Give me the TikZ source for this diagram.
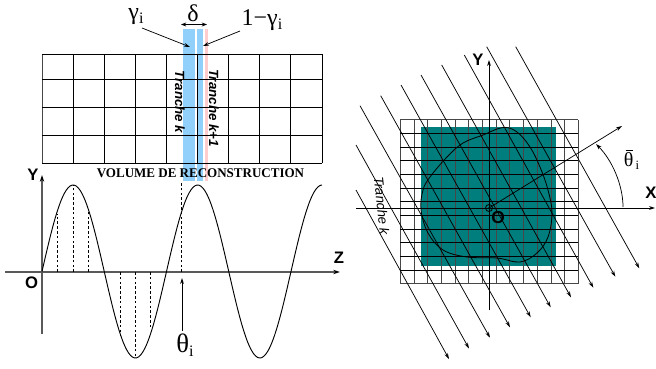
\documentclass[tikz,border=0pt]{standalone}
\usepackage{fontspec}
\setsansfont{Liberation Sans}
\newfontfamily\grk{Liberation Serif}
\usetikzlibrary{arrows.meta}
\definecolor{tealfill}{RGB}{0,125,125}
\definecolor{sliceblue}{RGB}{145,208,250}
\definecolor{slicered}{RGB}{255,205,205}
\tikzset{
  x=0.75pt,y=-0.75pt,
  thin line/.style={line width=0.6pt,black},
  grid line/.style={line width=0.68pt,black},
  grey grid/.style={line width=0.75pt,black!72},
  axis line/.style={line width=0.85pt,black!65,-{Stealth[length=5pt,width=3.2pt,black]}},
  arrow line/.style={line width=0.55pt,black,-{Stealth[length=4.5pt,width=2.8pt]}},
  guide line/.style={line width=0.6pt,black,dash pattern=on 2pt off 1.6pt},
  axis label/.style={font=\sffamily\bfseries\fontsize{12.5}{12}\selectfont,inner sep=0pt},
  greek label/.style={font=\grk\fontsize{18}{18}\selectfont,inner sep=0pt},
  slice label/.style={font=\sffamily\itshape\bfseries\fontsize{10}{10}\selectfont,inner sep=0pt,rotate=-90},
}
\begin{document}
\begin{tikzpicture}
\useasboundingbox (0,0) rectangle (656,368);
% slices
\fill[slicered] (204.5,29) rectangle (208,181);
\fill[sliceblue] (183,29) rectangle (195,181);
\fill[sliceblue] (196.7,29) rectangle (203.3,181);
% left grid
\foreach \gx in {73,104,135,166,197.5,228,259,290,322}
  \draw[grid line] (\gx,54) -- (\gx,163);
\draw[grey grid] (42,54) -- (42,163);
\foreach \gy in {54,79,107,135,163}
  \draw[grid line] (42,\gy) -- (322,\gy);
\node[slice label] (trk) at (180,102) {Tranche k};
\node[slice label] (trk1) at (214,108) {Tranche k+1};
\node[inner sep=0pt] (vol) at (200.5,173.5) {\resizebox{155.5pt}{6.6pt}{\grk\bfseries VOLUME DE RECONSTRUCTION}};
% greek
\node[greek label] (delta) at (193,13) {δ};
\node[greek label] (gam) at (136,17) {γ\raisebox{-3pt}{\fontsize{12}{12}\selectfont i}};
\node[greek label] (gam1) at (262,20) {1−γ\raisebox{-3pt}{\fontsize{12}{12}\selectfont i}};
\coordinate (dl) at (181,24.5);
\coordinate (dr) at (207,24.5);
\draw[thin line,{Stealth[length=4pt,width=3pt]}-{Stealth[length=4pt,width=3pt]}] (dl) -- (dr);
\coordinate (ga) at (142,28);
\coordinate (gb) at (190,47);
\coordinate (gc) at (240,31);
\coordinate (gd) at (203,46);
\draw[arrow line] (ga) -- (gb);
\draw[arrow line] (gc) -- (gd);
% left axes
\coordinate (zs) at (5,272);
\coordinate (ze) at (340,272);
\coordinate (ys) at (42,334);
\coordinate (ye) at (42,175);
\draw[axis line] (zs) -- (ze);
\draw[axis line] (ys) -- (ye);
\node[axis label] (ly) at (33,175) {Y};
\node[axis label] (lz) at (339,258) {Z};
\node[axis label] (lo) at (31.5,283) {O};
% sine
\draw[line width=0.7pt,black,domain=0:2.25,samples=140,smooth,variable=\t]
  plot ({42+124.5*\t},{271.5-86.5*sin(360*\t)});
\foreach \gx/\gy in {57.5/214,73/185,88/211,120.5/336,135/358,150/328}
  \draw[guide line] (\gx,272) -- (\gx,\gy);
\draw[guide line] (181.5,272) -- (181.5,181);
\coordinate (ta) at (182,331);
\coordinate (tb) at (182,278);
\draw[arrow line] (ta) -- (tb);
\node[greek label,font=\grk\fontsize{20}{20}\selectfont] (theta) at (185,345) {θ\raisebox{-3pt}{\fontsize{12}{12}\selectfont i}};
% right: teal
\fill[tealfill] (421,127) rectangle (556,266);
% grid
\foreach \i in {0,...,13}
  \draw[grey grid] ({400.3+13.7*\i},120) -- ({400.3+13.7*\i},284);
\foreach \i in {0,12}
  \draw[grey grid] (400.3,{119.7+13.67*\i}) -- (578.4,{119.7+13.67*\i});
\foreach \i in {1,...,11}
  \draw[grid line] (400.3,{119.7+13.67*\i}) -- (578.4,{119.7+13.67*\i});
% blob
\draw[line width=0.6pt,black] plot[smooth cycle,tension=0.6] coordinates {
 (421,210) (423,190) (430,177) (447,157) (463,143) (483,135) (503,127.5) (517,132) (530,147)
 (540,167) (548,190) (552,213) (548,237) (537,253) (520,262) (497,258) (467,257) (443,250) (428,233)};
% right axes
\coordinate (xs) at (356,208);
\coordinate (xe) at (655,208);
\coordinate (ys2) at (489,310);
\coordinate (ye2) at (489,60);
\coordinate (ro) at (489,208);
\coordinate (re) at (622,126);
\draw[arrow line] (xs) -- (xe);
\draw[arrow line] (ys2) -- (ye2);
\draw[arrow line] (ro) -- (re);
\draw[line width=0.6pt] (ro) circle (3.5);
\fill (ro) circle (1);
% slices lines
\foreach \sa/\sb/\ea/\eb in {
 356/190/449/359, 356/145/469/348.5, 360/105.7/490/337.7, 380.7/95.7/510/327.3,
 401/85/530.7/317.3, 421/75/550.7/307.3, 441.7/65/571/297.3, 464.3/55/593.3/287.7,
 486.7/46.7/615.3/276.7, 515.7/46.7/639.3/268.3}
  \draw[arrow line] (\sa,\sb) -- (\ea,\eb);
% angle
\coordinate (aa) at (623,207);
\coordinate (ab) at (596,144);
\draw[arrow line] (aa) .. controls (623,185) and (612,160) .. (ab);
\node[greek label,font=\grk\fontsize{15}{15}\selectfont] (tbar) at (631.5,161) {θ\raisebox{-2pt}{\fontsize{9.5}{10}\selectfont\,i}};
\coordinate (ba) at (625.7,150.5);
\coordinate (bb) at (632.7,150.5);
\draw[thin line] (ba) -- (bb);
\node[axis label] (lx) at (651,193) {X};
\node[axis label] (ly2) at (478,60) {Y};
\node[axis label,font=\sffamily\bfseries\fontsize{13}{13}\selectfont] (lo2) at (498,218) {O};
\node[font=\sffamily\itshape\fontsize{10}{10}\selectfont,inner sep=0pt,rotate=-84] (trk2) at (381.7,205.7) {Tranche k};
\end{tikzpicture}
\end{document}
